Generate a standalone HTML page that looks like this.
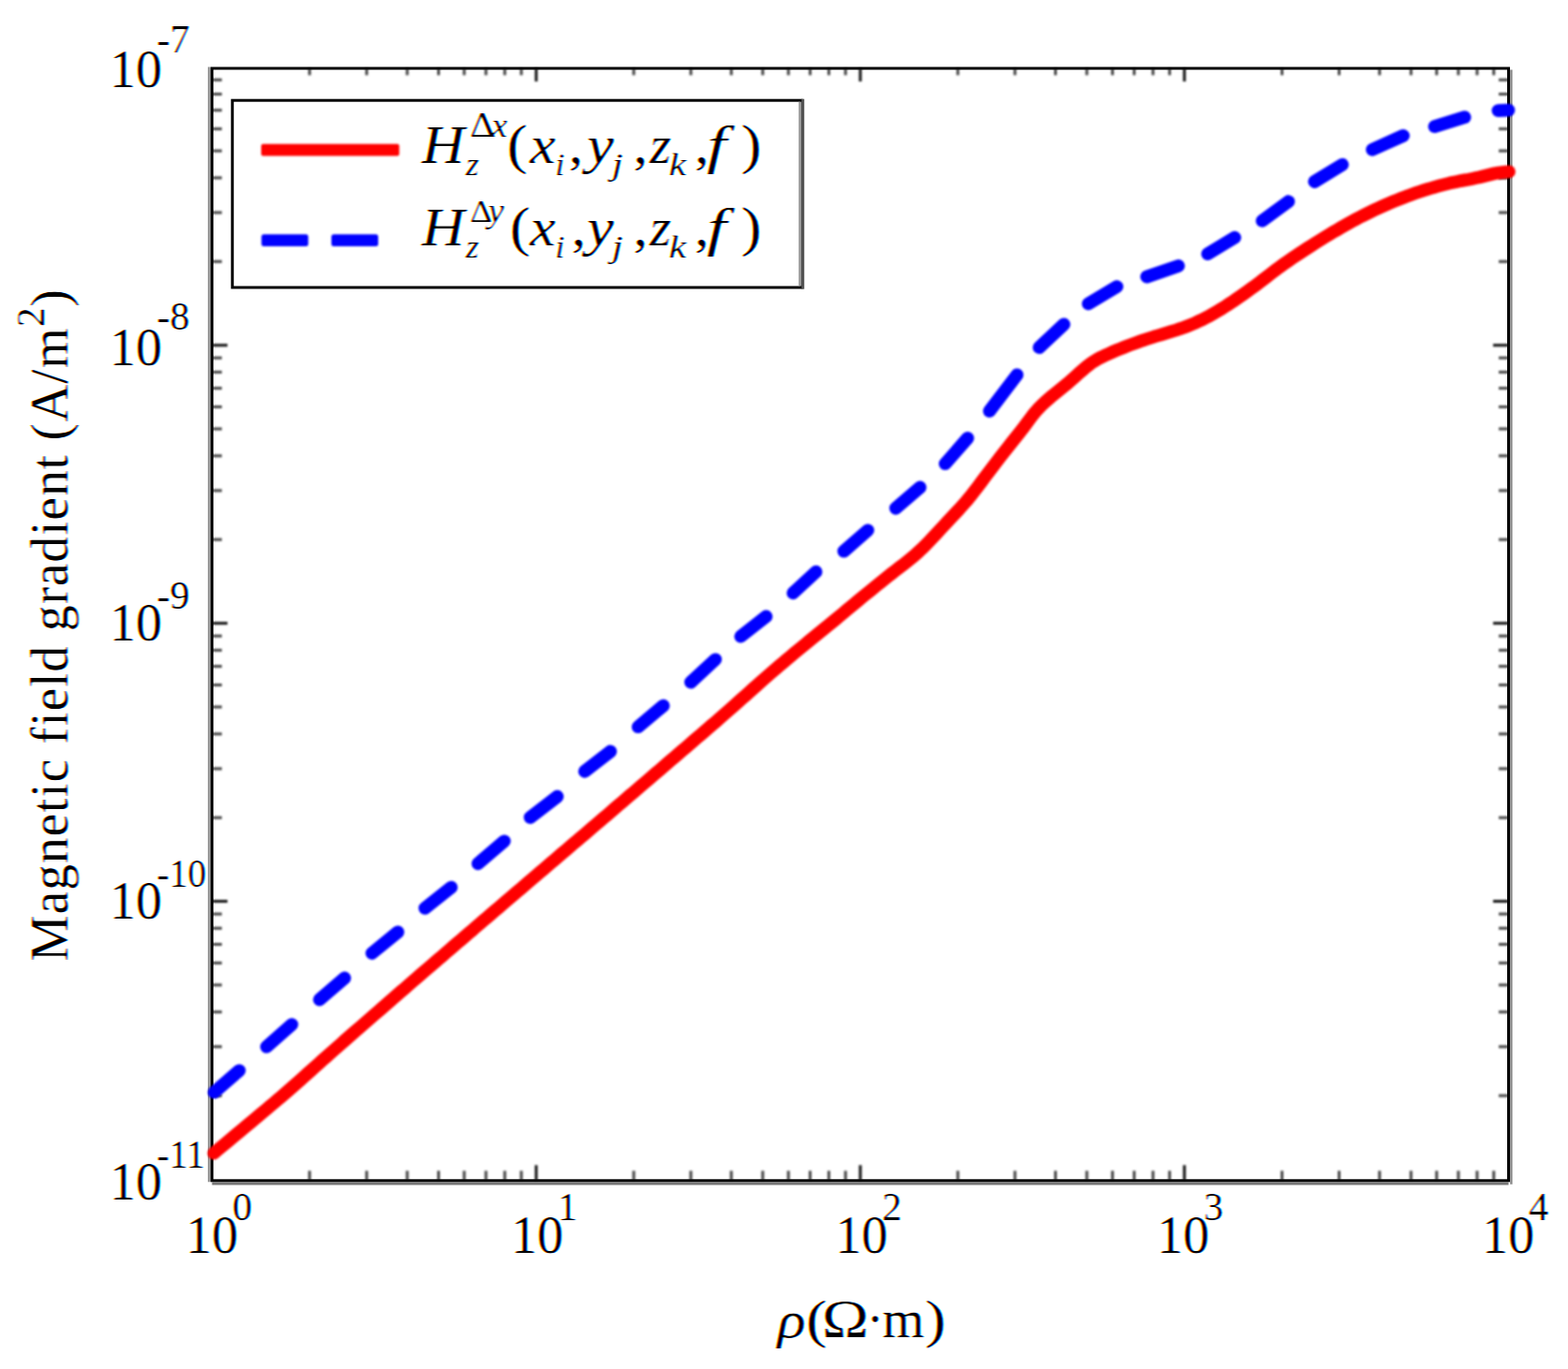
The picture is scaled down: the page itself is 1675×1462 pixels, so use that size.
<!DOCTYPE html>
<html><head><meta charset="utf-8"><title>Magnetic field gradient vs resistivity</title>
<style>html,body{margin:0;padding:0;background:#fff;}body{width:1675px;height:1462px;overflow:hidden;}svg{display:block;}</style>
</head><body>
<svg width="1675" height="1462" viewBox="0 0 1675 1462">
<rect width="100%" height="100%" fill="#fff"/>
<defs>
<filter id="ct" x="0" y="0" width="1675" height="1462" filterUnits="userSpaceOnUse" color-interpolation-filters="sRGB">
<feGaussianBlur in="SourceAlpha" stdDeviation="1.1 0.7"/><feComponentTransfer result="a"><feFuncA type="linear" slope="1.5" intercept="-0.32"/></feComponentTransfer>
<feOffset in="a" dx="1.2" result="ar"/>
<feOffset in="a" dx="-1.2" result="ab"/>
<feFlood flood-color="#00ffff"/><feComposite in2="ar" operator="in" result="cr"/>
<feFlood flood-color="#ff00ff"/><feComposite in2="a" operator="in" result="mg"/>
<feFlood flood-color="#ffff00"/><feComposite in2="ab" operator="in" result="yb"/>
<feBlend in="cr" in2="mg" mode="multiply" result="t1"/>
<feBlend in="t1" in2="yb" mode="multiply"/>
</filter>
<filter id="bl" x="0" y="0" width="1675" height="1462" filterUnits="userSpaceOnUse" color-interpolation-filters="sRGB">
<feGaussianBlur stdDeviation="0.8"/>
</filter>
</defs>
<g stroke-width="3" fill="none" filter="url(#bl)"><line x1="330.7" y1="1260.8" x2="330.7" y2="1250.3" stroke="#444"/><line x1="330.7" y1="73" x2="330.7" y2="80.3" stroke="#444"/><line x1="226.5" y1="1170.1" x2="237" y2="1170.1" stroke="#444"/><line x1="1611.5" y1="1170.1" x2="1601" y2="1170.1" stroke="#444"/><line x1="391.7" y1="1260.8" x2="391.7" y2="1250.3" stroke="#444"/><line x1="391.7" y1="73" x2="391.7" y2="80.3" stroke="#444"/><line x1="226.5" y1="1117.8" x2="237" y2="1117.8" stroke="#444"/><line x1="1611.5" y1="1117.8" x2="1601" y2="1117.8" stroke="#444"/><line x1="435" y1="1260.8" x2="435" y2="1250.3" stroke="#444"/><line x1="435" y1="73" x2="435" y2="80.3" stroke="#444"/><line x1="226.5" y1="1080.7" x2="237" y2="1080.7" stroke="#444"/><line x1="1611.5" y1="1080.7" x2="1601" y2="1080.7" stroke="#444"/><line x1="468.5" y1="1260.8" x2="468.5" y2="1250.3" stroke="#444"/><line x1="468.5" y1="73" x2="468.5" y2="80.3" stroke="#444"/><line x1="226.5" y1="1051.9" x2="237" y2="1051.9" stroke="#444"/><line x1="1611.5" y1="1051.9" x2="1601" y2="1051.9" stroke="#444"/><line x1="495.9" y1="1260.8" x2="495.9" y2="1250.3" stroke="#444"/><line x1="495.9" y1="73" x2="495.9" y2="80.3" stroke="#444"/><line x1="226.5" y1="1028.4" x2="237" y2="1028.4" stroke="#444"/><line x1="1611.5" y1="1028.4" x2="1601" y2="1028.4" stroke="#444"/><line x1="519.1" y1="1260.8" x2="519.1" y2="1250.3" stroke="#444"/><line x1="519.1" y1="73" x2="519.1" y2="80.3" stroke="#444"/><line x1="226.5" y1="1008.5" x2="237" y2="1008.5" stroke="#444"/><line x1="1611.5" y1="1008.5" x2="1601" y2="1008.5" stroke="#444"/><line x1="539.2" y1="1260.8" x2="539.2" y2="1250.3" stroke="#444"/><line x1="539.2" y1="73" x2="539.2" y2="80.3" stroke="#444"/><line x1="226.5" y1="991.3" x2="237" y2="991.3" stroke="#444"/><line x1="1611.5" y1="991.3" x2="1601" y2="991.3" stroke="#444"/><line x1="556.9" y1="1260.8" x2="556.9" y2="1250.3" stroke="#444"/><line x1="556.9" y1="73" x2="556.9" y2="80.3" stroke="#444"/><line x1="226.5" y1="976.1" x2="237" y2="976.1" stroke="#444"/><line x1="1611.5" y1="976.1" x2="1601" y2="976.1" stroke="#444"/><line x1="572.8" y1="1260.8" x2="572.8" y2="1244.3" stroke="#111"/><line x1="572.8" y1="73" x2="572.8" y2="87" stroke="#111"/><line x1="226.5" y1="962.5" x2="243" y2="962.5" stroke="#111"/><line x1="1611.5" y1="962.5" x2="1595" y2="962.5" stroke="#111"/><line x1="677" y1="1260.8" x2="677" y2="1250.3" stroke="#444"/><line x1="677" y1="73" x2="677" y2="80.3" stroke="#444"/><line x1="226.5" y1="873.2" x2="237" y2="873.2" stroke="#444"/><line x1="1611.5" y1="873.2" x2="1601" y2="873.2" stroke="#444"/><line x1="738" y1="1260.8" x2="738" y2="1250.3" stroke="#444"/><line x1="738" y1="73" x2="738" y2="80.3" stroke="#444"/><line x1="226.5" y1="820.9" x2="237" y2="820.9" stroke="#444"/><line x1="1611.5" y1="820.9" x2="1601" y2="820.9" stroke="#444"/><line x1="781.2" y1="1260.8" x2="781.2" y2="1250.3" stroke="#444"/><line x1="781.2" y1="73" x2="781.2" y2="80.3" stroke="#444"/><line x1="226.5" y1="783.8" x2="237" y2="783.8" stroke="#444"/><line x1="1611.5" y1="783.8" x2="1601" y2="783.8" stroke="#444"/><line x1="814.8" y1="1260.8" x2="814.8" y2="1250.3" stroke="#444"/><line x1="814.8" y1="73" x2="814.8" y2="80.3" stroke="#444"/><line x1="226.5" y1="755" x2="237" y2="755" stroke="#444"/><line x1="1611.5" y1="755" x2="1601" y2="755" stroke="#444"/><line x1="842.2" y1="1260.8" x2="842.2" y2="1250.3" stroke="#444"/><line x1="842.2" y1="73" x2="842.2" y2="80.3" stroke="#444"/><line x1="226.5" y1="731.5" x2="237" y2="731.5" stroke="#444"/><line x1="1611.5" y1="731.5" x2="1601" y2="731.5" stroke="#444"/><line x1="865.4" y1="1260.8" x2="865.4" y2="1250.3" stroke="#444"/><line x1="865.4" y1="73" x2="865.4" y2="80.3" stroke="#444"/><line x1="226.5" y1="711.6" x2="237" y2="711.6" stroke="#444"/><line x1="1611.5" y1="711.6" x2="1601" y2="711.6" stroke="#444"/><line x1="885.4" y1="1260.8" x2="885.4" y2="1250.3" stroke="#444"/><line x1="885.4" y1="73" x2="885.4" y2="80.3" stroke="#444"/><line x1="226.5" y1="694.4" x2="237" y2="694.4" stroke="#444"/><line x1="1611.5" y1="694.4" x2="1601" y2="694.4" stroke="#444"/><line x1="903.2" y1="1260.8" x2="903.2" y2="1250.3" stroke="#444"/><line x1="903.2" y1="73" x2="903.2" y2="80.3" stroke="#444"/><line x1="226.5" y1="679.2" x2="237" y2="679.2" stroke="#444"/><line x1="1611.5" y1="679.2" x2="1601" y2="679.2" stroke="#444"/><line x1="919" y1="1260.8" x2="919" y2="1244.3" stroke="#111"/><line x1="919" y1="73" x2="919" y2="87" stroke="#111"/><line x1="226.5" y1="665.6" x2="243" y2="665.6" stroke="#111"/><line x1="1611.5" y1="665.6" x2="1595" y2="665.6" stroke="#111"/><line x1="1023.2" y1="1260.8" x2="1023.2" y2="1250.3" stroke="#444"/><line x1="1023.2" y1="73" x2="1023.2" y2="80.3" stroke="#444"/><line x1="226.5" y1="576.2" x2="237" y2="576.2" stroke="#444"/><line x1="1611.5" y1="576.2" x2="1601" y2="576.2" stroke="#444"/><line x1="1084.2" y1="1260.8" x2="1084.2" y2="1250.3" stroke="#444"/><line x1="1084.2" y1="73" x2="1084.2" y2="80.3" stroke="#444"/><line x1="226.5" y1="523.9" x2="237" y2="523.9" stroke="#444"/><line x1="1611.5" y1="523.9" x2="1601" y2="523.9" stroke="#444"/><line x1="1127.5" y1="1260.8" x2="1127.5" y2="1250.3" stroke="#444"/><line x1="1127.5" y1="73" x2="1127.5" y2="80.3" stroke="#444"/><line x1="226.5" y1="486.8" x2="237" y2="486.8" stroke="#444"/><line x1="1611.5" y1="486.8" x2="1601" y2="486.8" stroke="#444"/><line x1="1161" y1="1260.8" x2="1161" y2="1250.3" stroke="#444"/><line x1="1161" y1="73" x2="1161" y2="80.3" stroke="#444"/><line x1="226.5" y1="458" x2="237" y2="458" stroke="#444"/><line x1="1611.5" y1="458" x2="1601" y2="458" stroke="#444"/><line x1="1188.4" y1="1260.8" x2="1188.4" y2="1250.3" stroke="#444"/><line x1="1188.4" y1="73" x2="1188.4" y2="80.3" stroke="#444"/><line x1="226.5" y1="434.5" x2="237" y2="434.5" stroke="#444"/><line x1="1611.5" y1="434.5" x2="1601" y2="434.5" stroke="#444"/><line x1="1211.6" y1="1260.8" x2="1211.6" y2="1250.3" stroke="#444"/><line x1="1211.6" y1="73" x2="1211.6" y2="80.3" stroke="#444"/><line x1="226.5" y1="414.6" x2="237" y2="414.6" stroke="#444"/><line x1="1611.5" y1="414.6" x2="1601" y2="414.6" stroke="#444"/><line x1="1231.7" y1="1260.8" x2="1231.7" y2="1250.3" stroke="#444"/><line x1="1231.7" y1="73" x2="1231.7" y2="80.3" stroke="#444"/><line x1="226.5" y1="397.4" x2="237" y2="397.4" stroke="#444"/><line x1="1611.5" y1="397.4" x2="1601" y2="397.4" stroke="#444"/><line x1="1249.4" y1="1260.8" x2="1249.4" y2="1250.3" stroke="#444"/><line x1="1249.4" y1="73" x2="1249.4" y2="80.3" stroke="#444"/><line x1="226.5" y1="382.2" x2="237" y2="382.2" stroke="#444"/><line x1="1611.5" y1="382.2" x2="1601" y2="382.2" stroke="#444"/><line x1="1265.2" y1="1260.8" x2="1265.2" y2="1244.3" stroke="#111"/><line x1="1265.2" y1="73" x2="1265.2" y2="87" stroke="#111"/><line x1="226.5" y1="368.7" x2="243" y2="368.7" stroke="#111"/><line x1="1611.5" y1="368.7" x2="1595" y2="368.7" stroke="#111"/><line x1="1369.5" y1="1260.8" x2="1369.5" y2="1250.3" stroke="#444"/><line x1="1369.5" y1="73" x2="1369.5" y2="80.3" stroke="#444"/><line x1="226.5" y1="279.3" x2="237" y2="279.3" stroke="#444"/><line x1="1611.5" y1="279.3" x2="1601" y2="279.3" stroke="#444"/><line x1="1430.5" y1="1260.8" x2="1430.5" y2="1250.3" stroke="#444"/><line x1="1430.5" y1="73" x2="1430.5" y2="80.3" stroke="#444"/><line x1="226.5" y1="227" x2="237" y2="227" stroke="#444"/><line x1="1611.5" y1="227" x2="1601" y2="227" stroke="#444"/><line x1="1473.7" y1="1260.8" x2="1473.7" y2="1250.3" stroke="#444"/><line x1="1473.7" y1="73" x2="1473.7" y2="80.3" stroke="#444"/><line x1="226.5" y1="189.9" x2="237" y2="189.9" stroke="#444"/><line x1="1611.5" y1="189.9" x2="1601" y2="189.9" stroke="#444"/><line x1="1507.3" y1="1260.8" x2="1507.3" y2="1250.3" stroke="#444"/><line x1="1507.3" y1="73" x2="1507.3" y2="80.3" stroke="#444"/><line x1="226.5" y1="161.1" x2="237" y2="161.1" stroke="#444"/><line x1="1611.5" y1="161.1" x2="1601" y2="161.1" stroke="#444"/><line x1="1534.7" y1="1260.8" x2="1534.7" y2="1250.3" stroke="#444"/><line x1="1534.7" y1="73" x2="1534.7" y2="80.3" stroke="#444"/><line x1="226.5" y1="137.6" x2="237" y2="137.6" stroke="#444"/><line x1="1611.5" y1="137.6" x2="1601" y2="137.6" stroke="#444"/><line x1="1557.9" y1="1260.8" x2="1557.9" y2="1250.3" stroke="#444"/><line x1="1557.9" y1="73" x2="1557.9" y2="80.3" stroke="#444"/><line x1="226.5" y1="117.7" x2="237" y2="117.7" stroke="#444"/><line x1="1611.5" y1="117.7" x2="1601" y2="117.7" stroke="#444"/><line x1="1577.9" y1="1260.8" x2="1577.9" y2="1250.3" stroke="#444"/><line x1="1577.9" y1="73" x2="1577.9" y2="80.3" stroke="#444"/><line x1="226.5" y1="100.5" x2="237" y2="100.5" stroke="#444"/><line x1="1611.5" y1="100.5" x2="1601" y2="100.5" stroke="#444"/><line x1="1595.7" y1="1260.8" x2="1595.7" y2="1250.3" stroke="#444"/><line x1="1595.7" y1="73" x2="1595.7" y2="80.3" stroke="#444"/><line x1="226.5" y1="85.3" x2="237" y2="85.3" stroke="#444"/><line x1="1611.5" y1="85.3" x2="1601" y2="85.3" stroke="#444"/></g>
<g fill="none" stroke-width="3"><path d="M223.5,71.5V1262.3" stroke="#999"/><path d="M226.5,1264H1611.5" stroke="#777"/><path d="M1614.4,74.5V1264.8" stroke="#888" stroke-width="2.4"/>
<rect x="226.5" y="73" width="1385" height="1187.8" stroke="#000"/></g>
<g filter="url(#bl)">
<path d="M228.5,1231.5 L232.5,1228.1 L236.5,1224.8 L240.5,1221.4 L244.5,1218.1 L248.5,1214.7 L252.5,1211.4 L256.5,1208.1 L260.5,1204.7 L264.5,1201.4 L268.5,1198.1 L272.5,1194.7 L276.5,1191.4 L280.5,1188 L284.5,1184.7 L288.5,1181.3 L292.5,1178 L296.5,1174.6 L300.5,1171.2 L304.5,1167.7 L308.5,1164.2 L312.5,1160.7 L316.5,1157.2 L320.5,1153.7 L324.5,1150.1 L328.5,1146.5 L332.5,1143 L336.5,1139.4 L340.5,1135.8 L344.5,1132.2 L348.5,1128.7 L352.5,1125.1 L356.5,1121.6 L360.5,1118.1 L364.5,1114.6 L368.5,1111 L372.5,1107.5 L376.5,1104 L380.5,1100.6 L384.5,1097.1 L388.5,1093.6 L392.5,1090.1 L396.5,1086.6 L400.5,1083.1 L404.5,1079.7 L408.5,1076.2 L412.5,1072.7 L416.5,1069.2 L420.5,1065.8 L424.5,1062.3 L428.5,1058.8 L432.5,1055.4 L436.5,1051.9 L440.5,1048.4 L444.5,1045 L448.5,1041.5 L452.5,1038.1 L456.5,1034.6 L460.5,1031.2 L464.5,1027.7 L468.5,1024.3 L472.5,1020.9 L476.5,1017.4 L480.5,1014 L484.5,1010.5 L488.5,1007.1 L492.5,1003.7 L496.5,1000.2 L500.5,996.8 L504.5,993.4 L508.5,989.9 L512.5,986.5 L516.5,983.1 L520.5,979.7 L524.5,976.2 L528.5,972.8 L532.5,969.4 L536.5,966 L540.5,962.6 L544.5,959.1 L548.5,955.7 L552.5,952.3 L556.5,948.9 L560.5,945.5 L564.5,942.1 L568.5,938.6 L572.5,935.2 L576.5,931.8 L580.5,928.4 L584.5,925 L588.5,921.6 L592.5,918.2 L596.5,914.8 L600.5,911.3 L604.5,907.9 L608.5,904.5 L612.5,901.1 L616.5,897.7 L620.5,894.3 L624.5,890.9 L628.5,887.5 L632.5,884.1 L636.5,880.6 L640.5,877.2 L644.5,873.8 L648.5,870.4 L652.5,867 L656.5,863.5 L660.5,860.1 L664.5,856.7 L668.5,853.3 L672.5,849.8 L676.5,846.4 L680.5,843 L684.5,839.6 L688.5,836.1 L692.5,832.7 L696.5,829.3 L700.5,825.8 L704.5,822.4 L708.5,819 L712.5,815.5 L716.5,812.1 L720.5,808.7 L724.5,805.2 L728.5,801.8 L732.5,798.4 L736.5,795 L740.5,791.5 L744.5,788.1 L748.5,784.7 L752.5,781.2 L756.5,777.8 L760.5,774.3 L764.5,770.9 L768.5,767.4 L772.5,763.9 L776.5,760.4 L780.5,756.9 L784.5,753.3 L788.5,749.8 L792.5,746.2 L796.5,742.7 L800.5,739.1 L804.5,735.5 L808.5,732 L812.5,728.4 L816.5,724.9 L820.5,721.4 L824.5,717.9 L828.5,714.5 L832.5,711.1 L836.5,707.7 L840.5,704.3 L844.5,701 L848.5,697.6 L852.5,694.3 L856.5,691 L860.5,687.7 L864.5,684.4 L868.5,681.2 L872.5,677.9 L876.5,674.7 L880.5,671.4 L884.5,668.2 L888.5,664.9 L892.5,661.6 L896.5,658.3 L900.5,655 L904.5,651.6 L908.5,648.3 L912.5,644.9 L916.5,641.6 L920.5,638.3 L924.5,635 L928.5,631.8 L932.5,628.6 L936.5,625.3 L940.5,622.1 L944.5,618.9 L948.5,615.7 L952.5,612.5 L956.5,609.4 L960.5,606.3 L964.5,603.3 L968.5,600.1 L972.5,596.9 L976.5,593.6 L980.5,590 L984.5,586.3 L988.5,582.3 L992.5,578.2 L996.5,574 L1000.5,569.7 L1004.5,565.4 L1008.5,561.1 L1012.5,556.8 L1016.5,552.6 L1020.5,548.3 L1024.5,544 L1028.5,539.5 L1032.5,535 L1036.5,530.2 L1040.5,525.1 L1044.5,519.8 L1048.5,514.5 L1052.5,509.2 L1056.5,503.9 L1060.5,498.6 L1064.5,493.4 L1068.5,488.1 L1072.5,483 L1076.5,477.9 L1080.5,472.9 L1084.5,467.9 L1088.5,462.9 L1092.5,457.8 L1096.5,452.4 L1100.5,447 L1104.5,441.8 L1108.5,437.1 L1112.5,433 L1116.5,429.2 L1120.5,425.7 L1124.5,422.3 L1128.5,419.1 L1132.5,415.9 L1136.5,412.7 L1140.5,409.4 L1144.5,405.9 L1148.5,402.3 L1152.5,398.7 L1156.5,395.2 L1160.5,391.8 L1164.5,388.7 L1168.5,385.9 L1172.5,383.6 L1176.5,381.4 L1180.5,379.5 L1184.5,377.7 L1188.5,375.9 L1192.5,374.2 L1196.5,372.6 L1200.5,371 L1204.5,369.4 L1208.5,367.9 L1212.5,366.5 L1216.5,365 L1220.5,363.6 L1224.5,362.3 L1228.5,361 L1232.5,359.7 L1236.5,358.5 L1240.5,357.3 L1244.5,356.1 L1248.5,354.9 L1252.5,353.7 L1256.5,352.5 L1260.5,351.1 L1264.5,349.8 L1268.5,348.3 L1272.5,346.7 L1276.5,345 L1280.5,343.1 L1284.5,341.2 L1288.5,339.2 L1292.5,337.1 L1296.5,334.8 L1300.5,332.4 L1304.5,330 L1308.5,327.5 L1312.5,324.9 L1316.5,322.3 L1320.5,319.5 L1324.5,316.8 L1328.5,314 L1332.5,311.1 L1336.5,308.2 L1340.5,305.3 L1344.5,302.4 L1348.5,299.3 L1352.5,296.2 L1356.5,293.1 L1360.5,290.1 L1364.5,287 L1368.5,284.1 L1372.5,281.2 L1376.5,278.5 L1380.5,275.7 L1384.5,273 L1388.5,270.4 L1392.5,267.7 L1396.5,265.1 L1400.5,262.6 L1404.5,260 L1408.5,257.5 L1412.5,255 L1416.5,252.5 L1420.5,250.1 L1424.5,247.7 L1428.5,245.4 L1432.5,243.1 L1436.5,240.8 L1440.5,238.5 L1444.5,236.3 L1448.5,234.1 L1452.5,232 L1456.5,230 L1460.5,228 L1464.5,226 L1468.5,224.1 L1472.5,222.2 L1476.5,220.4 L1480.5,218.6 L1484.5,216.9 L1488.5,215.2 L1492.5,213.6 L1496.5,212 L1500.5,210.5 L1504.5,208.9 L1508.5,207.5 L1512.5,206.1 L1516.5,204.7 L1520.5,203.4 L1524.5,202.2 L1528.5,201 L1532.5,199.8 L1536.5,198.7 L1540.5,197.6 L1544.5,196.6 L1548.5,195.6 L1552.5,194.7 L1556.5,193.9 L1560.5,193.1 L1564.5,192.4 L1568.5,191.7 L1572.5,190.9 L1576.5,190.1 L1580.5,189.3 L1584.5,188.3 L1588.5,187.3 L1592.5,186.3 L1596.5,185.3 L1600.5,184.6 L1604.5,184.1 L1608.5,183.6 L1612,183.3" fill="none" stroke="#f00" stroke-width="13.8" stroke-linejoin="round" stroke-linecap="round"/>
<path d="M228.8,1166.4L255.6,1143.3M284.8,1117.9L311.7,1094.1M341.3,1067.5L368.1,1044.4M397.3,1018L425,995.3M454,969.9L482,947.6M510.6,922.3L538.7,898.3M566.4,873L595.3,850.7M624.6,823.8L652.1,802.5M681.7,776.2L708.6,753.6M737.9,728.6L764.2,704.3M791.3,679.7L818.4,658.4M847.2,633.3L871.6,610.7M901.4,588.7L927,566.4M956.9,542.8L982.8,520.5M1009.7,495.2L1033.7,467.9M1057,439L1086.4,400.3M1110.1,371.1L1136.5,346.4M1162.6,324.4L1193.1,306.1M1225,295.6L1258.8,284M1290.1,271.1L1319,253.7M1348.4,235.8L1376.4,215.2M1404.2,194L1433.9,175.8M1466,159.8L1499,144.9M1532.5,135.2L1564.6,125.2M1600.4,118.2L1611.5,117.6" fill="none" stroke="#00f" stroke-width="13.8" stroke-linecap="round"/>
</g>
<rect x="248.2" y="107.2" width="607.8" height="199.8" fill="#fff" stroke="#000" stroke-width="3"/>
<path d="M854.7,108.7V305.5" stroke="#999" stroke-width="3" fill="none"/><path d="M857.7,105.7V308.7" stroke="#555" stroke-width="3" fill="none"/>
<g filter="url(#bl)">
<rect x="279" y="153.7" width="147.5" height="12.8" rx="2" fill="#f00"/>
<rect x="279.3" y="250.2" width="50" height="12.8" rx="2.5" fill="#00f"/><rect x="354" y="250.2" width="50" height="12.8" rx="2.5" fill="#00f"/>
</g>
<g font-family="'Liberation Serif',serif" fill="#000" filter="url(#ct)"><text x="117" y="92.9" font-size="56" text-anchor="start">10</text><text x="167.5" y="55.5" font-size="42" text-anchor="start">-7</text><text x="117" y="390" font-size="56" text-anchor="start">10</text><text x="167.5" y="352.1" font-size="42" text-anchor="start">-8</text><text x="117" y="683.8" font-size="56" text-anchor="start">10</text><text x="167.5" y="649.8" font-size="42" text-anchor="start">-9</text><text x="117" y="980.9" font-size="56" text-anchor="start">10</text><text transform="translate(167.5,946.5) scale(0.94,1)" font-size="42" text-anchor="start">-10</text><text x="117" y="1281.4" font-size="56" text-anchor="start">10</text><text transform="translate(167.5,1246.7) scale(0.94,1)" font-size="42" text-anchor="start">-11</text><text x="198.3" y="1337.5" font-size="56" text-anchor="start">10</text><text x="248.3" y="1302.8" font-size="42" text-anchor="start">0</text><text x="545.7" y="1337.5" font-size="56" text-anchor="start">10</text><text x="595.7" y="1302.8" font-size="42" text-anchor="start">1</text><text x="892.3" y="1337.5" font-size="56" text-anchor="start">10</text><text x="942.3" y="1302.8" font-size="42" text-anchor="start">2</text><text x="1235.8" y="1337.5" font-size="56" text-anchor="start">10</text><text x="1285.8" y="1302.8" font-size="42" text-anchor="start">3</text><text x="1582.9" y="1337.5" font-size="56" text-anchor="start">10</text><text x="1632.9" y="1302.8" font-size="42" text-anchor="start">4</text><text transform="translate(830.5,1428) scale(1.12,1)" font-size="56" font-style="italic" text-anchor="start">ρ</text><text transform="translate(861,1428) scale(1.2,1)" font-size="56" text-anchor="start">(</text><text transform="translate(878,1428) scale(1.2,1)" font-size="56" text-anchor="start">Ω</text><text x="925.5" y="1428" font-size="56" text-anchor="start">·</text><text transform="translate(942.5,1428) scale(1.03,1)" font-size="56" text-anchor="start">m</text><text transform="translate(988,1428) scale(1.2,1)" font-size="56" text-anchor="start">)</text><text transform="translate(72,668) rotate(-90)" font-size="56" text-anchor="middle" textLength="718" lengthAdjust="spacing">Magnetic field gradient (A/m<tspan font-size="42" dy="-25">2</tspan><tspan dy="25">)</tspan></text><text transform="translate(450.5,173.7) scale(1.13,1)" font-size="56" font-style="italic" text-anchor="start">H</text><text transform="translate(497.5,186.7) scale(1.1,1)" font-size="33" font-style="italic" text-anchor="start">z</text><text transform="translate(502,146.1) scale(1.12,1)" font-size="37" text-anchor="start">Δ</text><text transform="translate(525,146.1) scale(1.05,1)" font-size="36" font-style="italic" text-anchor="start">x</text><text transform="translate(541.5,174.2) scale(1.1,1)" font-size="60" text-anchor="start">(</text><text transform="translate(566,173.7) scale(1.1,1)" font-size="56" font-style="italic" text-anchor="start">x</text><text transform="translate(593,186.7) scale(1.1,1)" font-size="33" font-style="italic" text-anchor="start">i</text><text transform="translate(607.5,173.7) scale(1.1,1)" font-size="56" text-anchor="start">,</text><text transform="translate(627,173.7) scale(1.15,1)" font-size="56" font-style="italic" text-anchor="start">y</text><text transform="translate(653.5,186.7) scale(1.3,1)" font-size="33" font-style="italic" text-anchor="start">j</text><text transform="translate(676.5,173.7) scale(1.1,1)" font-size="56" text-anchor="start">,</text><text transform="translate(694,173.7) scale(1.05,1)" font-size="56" font-style="italic" text-anchor="start">z</text><text transform="translate(714.5,186.7) scale(1.25,1)" font-size="33" font-style="italic" text-anchor="start">k</text><text transform="translate(742,173.7) scale(1.1,1)" font-size="56" text-anchor="start">,</text><text transform="translate(755,173.7) scale(1.35,1)" font-size="56" font-style="italic" text-anchor="start">f</text><text transform="translate(791.5,174.2) scale(1.1,1)" font-size="60" text-anchor="start">)</text><text transform="translate(450.5,261.7) scale(1.13,1)" font-size="56" font-style="italic" text-anchor="start">H</text><text transform="translate(497.5,274.7) scale(1.1,1)" font-size="33" font-style="italic" text-anchor="start">z</text><text transform="translate(502,236.6) scale(1.12,1)" font-size="33" text-anchor="start">Δ</text><text transform="translate(521.4,236.6) scale(1.05,1)" font-size="36" font-style="italic" text-anchor="start">y</text><text transform="translate(544.5,262.2) scale(1.1,1)" font-size="60" text-anchor="start">(</text><text transform="translate(566,261.7) scale(1.1,1)" font-size="56" font-style="italic" text-anchor="start">x</text><text transform="translate(593,274.7) scale(1.1,1)" font-size="33" font-style="italic" text-anchor="start">i</text><text transform="translate(610.5,261.7) scale(1.1,1)" font-size="56" text-anchor="start">,</text><text transform="translate(627,261.7) scale(1.15,1)" font-size="56" font-style="italic" text-anchor="start">y</text><text transform="translate(653.5,274.7) scale(1.3,1)" font-size="33" font-style="italic" text-anchor="start">j</text><text transform="translate(676.5,261.7) scale(1.1,1)" font-size="56" text-anchor="start">,</text><text transform="translate(694,261.7) scale(1.05,1)" font-size="56" font-style="italic" text-anchor="start">z</text><text transform="translate(714.5,274.7) scale(1.25,1)" font-size="33" font-style="italic" text-anchor="start">k</text><text transform="translate(742,261.7) scale(1.1,1)" font-size="56" text-anchor="start">,</text><text transform="translate(755,261.7) scale(1.35,1)" font-size="56" font-style="italic" text-anchor="start">f</text><text transform="translate(791.5,262.2) scale(1.1,1)" font-size="60" text-anchor="start">)</text></g>
</svg>
</body></html>
